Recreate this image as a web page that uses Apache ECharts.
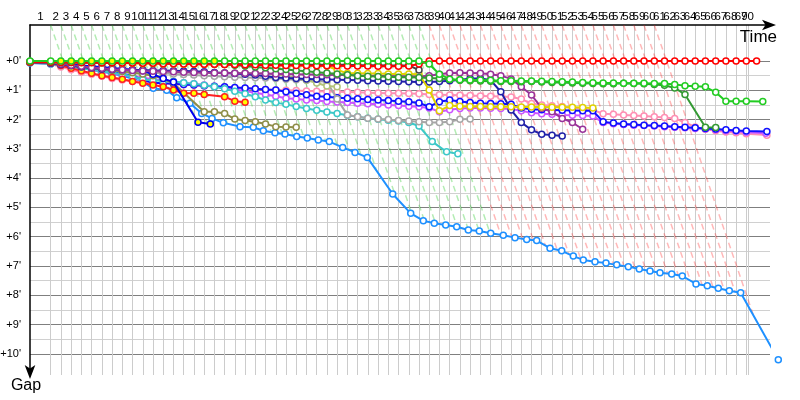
<!DOCTYPE html>
<html><head><meta charset="utf-8">
<script src="https://cdn.jsdelivr.net/npm/echarts@6/dist/echarts.min.js"></script>
<style>html,body{margin:0;padding:0;background:#fff}#c{width:800px;height:400px}</style>
</head><body><div id="c"></div>
<script>
// leader crossing time (minutes) at the end of each lap, lap 0 = start
const lapT = [0,2.07,3.09,4.12,5.14,6.16,7.19,8.21,9.23,10.25,11.28,12.30,13.32,14.35,15.37,16.39,17.42,18.44,19.46,20.48,21.51,22.53,23.55,24.58,25.60,26.62,27.65,28.67,29.69,30.71,31.74,32.76,33.78,34.81,35.83,36.85,37.88,38.90,39.92,40.94,41.97,42.99,44.01,45.04,46.06,47.08,48.11,49.13,50.15,51.17,52.20,53.22,54.24,55.27,56.29,57.31,58.34,59.36,60.38,61.40,62.43,63.45,64.47,65.50,66.52,67.54,68.57,69.59,70.61,71.63,72.66];
const finishT = 71.87;
const leaderChangeLap = 38;
const gapTop = -1.23, gapBottom = 10.72;
const gapTicks = [0,1,2,3,4,5,6,7,8,9,10];

// gaps (minutes) per lap, starting at lap 0
const gGreen = [0,0,0,0,0,0,0,0,0,0,0,0,0,0,0,0,0,0,0,0,0,0,0,0,0,0,0,0,0,0,0,0,0,0,0,0,0,0,
  0.10,0.45,0.62,0.64,0.65,0.65,0.66,0.67,0.67,0.68,0.68,0.69,0.70,0.71,0.72,0.73,0.74,0.75,0.75,0.76,0.76,0.76,0.77,0.77,0.80,0.84,0.86,0.88,1.07,1.37,1.37,1.37];
const pGreen = [[70.6,1.38]];
const gRed = [0.03,0.03,0.04,0.04,0.05,0.05,0.06,0.06,0.07,0.07,0.08,0.08,0.09,0.09,0.10,0.10,0.11,0.11,0.12,0.12,
  0.13,0.13,0.14,0.14,0.15,0.15,0.15,0.16,0.16,0.16,0.17,0.17,0.17,0.18,0.18,0.18,0.17,0.10,
  0,0,0,0,0,0,0,0,0,0,0,0,0,0,0,0,0,0,0,0,0,0,0,0,0,0,0,0,0,0,0,0,0];
const gDarkGrey = [0.03,0.04,0.04,0.05,0.05,0.05,0.06,0.06,0.06,0.06,0.07,0.07,0.08,0.08,0.08,0.09,0.09,0.09,0.10,0.10,
  0.11,0.11,0.11,0.12,0.12,0.12,0.13,0.13,0.13,0.13,0.13,0.14,0.14,0.14,0.15,0.15,0.15,0.31];
const gYellow = [0.03,0.04,0.05,0.05,0.06,0.06,0.07,0.07,0.08,0.08,0.09,0.09,0.10,0.10,0.11,0.11,0.12,0.12,0.12,0.13,
  0.13,0.13,0.14,0.14,0.15,0.15,0.16,0.16,0.17,0.30,0.42,0.42,0.43,0.43,0.44,0.44,0.44,0.45,0.99,1.70,
  1.52,1.54,1.55,1.55,1.56,1.56,1.56,1.57,1.57,1.57,1.58,1.58,1.58,1.59,1.60];
const gPurple = [0.03,0.06,0.10,0.14,0.18,0.22,0.25,0.28,0.30,0.32,0.34,0.35,0.36,0.37,0.38,0.39,0.40,0.41,0.41,0.42,
  0.42,0.43,0.43,0.44,0.44,0.45,0.46,0.46,0.47,0.48,0.48,0.49,0.50,0.50,0.51,0.52,0.52,0.53,0.50,0.45,
  0.41,0.40,0.41,0.42,0.45,0.50,0.61,0.88,1.16,1.61,1.73,1.96,2.10,2.33];
const gNavy = [0.03,0.08,0.12,0.16,0.20,0.24,0.27,0.29,0.30,0.31,0.31,0.32,0.32,0.33,0.34,0.35,0.37,0.39,0.41,0.43,
  0.45,0.48,0.52,0.56,0.58,0.60,0.61,0.62,0.63,0.64,0.65,0.66,0.67,0.68,0.69,0.70,0.71,0.72,0.72,0.70,
  0.67,0.65,0.60,0.60,0.65,1.05,1.67,2.10,2.35,2.50,2.53,2.56];
const gBlueA = [0.03,0.06,0.09,0.12,0.15,0.18,0.21,0.24,0.27,0.30,0.33,0.45,0.60,0.72];
const pBlueA = [[15.4,2.09],[16.6,2.15]]; // read at their own positions
const gBlueB = [0.04,0.08,0.13,0.18,0.23,0.28,0.33,0.38,0.43,0.50,0.65,0.74,0.76,0.78,0.80,0.82,0.84,0.86,0.88,0.90,
  0.92,0.95,0.97,0.99,1.05,1.10,1.15,1.20,1.22,1.25,1.27,1.29,1.31,1.33,1.35,1.37,1.39,1.43,1.56,1.39,
  1.33,1.38,1.42,1.44,1.45,1.46,1.48,1.60,1.65,1.66,1.67,1.68,1.69,1.70,1.70,2.07,2.12,2.15,2.17,2.19,
  2.20,2.22,2.24,2.26,2.28,2.30,2.32,2.35,2.37,2.39];
const pBlueB = [[71.0,2.41]];
const gPink = [0.04,0.10,0.20,0.30,0.38,0.45,0.52,0.60,0.65,0.68,0.72,0.75,0.77,0.79,0.81,0.83,0.85,0.87,0.89,0.91,
  0.93,0.95,0.97,0.99,1.00,1.01,1.02,1.03,1.04,1.05,1.06,1.07,1.08,1.09,1.10,1.10,1.11,1.12,1.14,1.15,
  1.16,1.17,1.18,1.19,1.20,1.21,1.23,1.30,1.45,1.50,1.53,1.55,1.60,1.64,1.67,1.80,1.82,1.84,1.86,1.88,
  1.90,1.93,1.96,2.10,2.25,2.33,2.38,2.42,2.45,2.48];
const pPink = [[71.0,2.53]];
const gViolet = [0.04,0.08,0.13,0.18,0.24,0.30,0.36,0.42,0.47,0.52,0.57,0.62,0.66,0.70,0.74,0.78,0.82,0.87,0.92,0.97,
  1.02,1.08,1.14,1.20,1.27,1.30,1.33,1.35,1.38,1.40,1.42,1.44,1.46,1.48,1.50,1.52,1.54,1.56,1.60,1.73,
  1.66,1.62,1.60,1.60,1.61,1.62,1.64,1.70,1.77,1.80,1.82,1.84,1.85,1.86,1.88,2.10,2.14,2.17,2.19,2.20,
  2.22,2.24,2.26,2.28,2.30,2.32,2.35,2.38,2.40,2.43];
const pViolet = [[70.9,2.47]];
const gCyan = [0.04,0.10,0.15,0.20,0.25,0.30,0.35,0.40,0.45,0.52,0.63,0.66,0.68,0.70,0.74,0.78,0.83,0.88,0.95,1.03,
  1.12,1.22,1.33,1.42,1.48,1.55,1.62,1.68,1.74,1.79,1.85,1.90,1.95,1.99,2.02,2.05,2.10,2.22];
const pCyan = [[38.3,2.75],[39.7,3.10],[40.8,3.17]];
const gGrey = [0.04,0.07,0.10,0.14,0.18,0.22,0.26,0.30,0.33,0.36,0.38,0.40,0.42,0.44,0.46,0.48,0.50,0.52,0.54,0.55,
  0.56,0.57,0.58,0.60,0.62,0.64,0.66,0.68,0.71,1.30,1.84,1.90,1.95,1.98,2.00,2.03,2.05,2.07,2.10,2.10,
  2.07,1.99,1.98];
const gLightOlive = [0.04,0.07,0.10,0.13,0.16,0.19,0.22,0.25,0.28,0.30,0.32,0.34,0.35,0.36,0.37,0.38,0.39,0.40,0.40,0.41,
  0.41,0.42,0.42,0.45,0.50,0.58,0.65,0.75,0.85,0.88];
const gOlive = [0.04,0.08,0.12,0.16,0.20,0.24,0.28,0.32,0.36,0.40,0.44,0.50,0.60,0.76,null,null,1.73,1.73,1.79,1.98,
  2.03,2.07,2.15,2.24,2.25,2.26];
const gRedB = [0.04,0.08,0.15,0.25,0.33,0.42,0.50,0.56,0.62,0.70,0.76,0.82,0.88,0.99,1.10,1.10,1.14,null,1.22,1.37,1.41];
const gDarkGreen = [0.02,0.03,0.03,0.03,0.04,0.04,0.04,0.05,0.05,0.05,0.06,0.06,0.07,0.07,0.08,0.08,0.09,0.10,0.12,0.14,
  0.17,0.20,0.23,0.26,0.29,0.32,0.35,0.38,0.41,0.44,0.47,0.50,0.52,0.53,0.54,0.55,0.55,0.56,0.58,0.60,
  0.63,0.66,0.67,0.68,0.69,0.70,0.70,0.71,0.70,0.72,0.73,0.73,0.75,0.76,0.77,0.78,0.78,0.76,0.77,0.78,
  0.80,0.83,0.92,1.14,null,2.26,2.27];
// lapped car: read crossing times and gaps
const skyT = [0,2.07,3.09,4.12,5.14,6.16,7.19,8.21,9.23,10.25,11.28,12.33,13.67,14.67,16.0,17.17,18.2,19.33,21.0,22.33,
  23.33,24.5,25.5,26.67,27.73,28.83,29.93,31.27,32.5,33.73,36.27,38.07,39.33,40.43,41.57,42.67,43.83,44.93,46.07,47.33,
  48.5,49.67,50.67,52.0,53.17,54.33,55.33,56.5,57.6,58.67,59.83,60.93,62.0,63.0,64.17,65.23,66.6,67.73,68.83,69.93,71.07,74.83];
const skyG = [0.07,0.10,0.14,0.19,0.24,0.30,0.36,0.43,0.50,0.60,0.72,0.93,1.00,1.25,1.44,1.79,1.96,2.11,2.24,2.26,
  2.38,2.45,2.49,2.58,2.63,2.70,2.75,2.95,3.12,3.29,4.54,5.20,5.45,5.54,5.60,5.66,5.77,5.80,5.88,5.95,
  6.03,6.09,6.13,6.39,6.48,6.66,6.79,6.85,6.90,6.96,7.02,7.10,7.17,7.23,7.27,7.34,7.61,7.67,7.76,7.84,7.91,10.20];

function lapToT(l) {
  const last = lapT.length - 1;
  if (l >= last) return lapT[last] + (lapT[last] - lapT[last - 1]) * (l - last);
  const i = Math.floor(l), f = l - i;
  return lapT[i] + (lapT[i + 1] - lapT[i]) * f;
}
function fromLaps(gaps, yellowTo, pairs, yellowPairs) {
  const out = [];
  gaps.forEach((g, lap) => {
    if (g === null) return;
    const item = { value: [lapT[lap], g] };
    if (yellowTo && lap >= yellowTo[0] && lap <= yellowTo[1]) item.itemStyle = { color: '#ffff00' };
    out.push(item);
  });
  (pairs || []).forEach(p => {
    const item = { value: [lapToT(p[0]), p[1]] };
    if (yellowPairs) item.itemStyle = { color: '#ffff00' };
    out.push(item);
  });
  return out;
}
const skyPts = skyT.map((t, i) => ({ value: [t, skyG[i]] }));

const cars = [
  { c: '#1e90ff', d: skyPts },
  { c: '#ff8fb4', d: fromLaps(gPink, [3, 10], pPink) },
  { c: '#cc55ff', d: fromLaps(gViolet, null, pViolet) },
  { c: '#1010ff', d: fromLaps(gBlueB, null, pBlueB) },
  { c: '#3cc8c8', d: fromLaps(gCyan, null, pCyan) },
  { c: '#a6a6a6', d: fromLaps(gGrey) },
  { c: '#b3c27a', d: fromLaps(gLightOlive) },
  { c: '#8e8e48', d: fromLaps(gOlive) },
  { c: '#ff2020', d: fromLaps(gRedB, [0, 20]) },
  { c: '#0000ee', d: fromLaps(gBlueA, null, pBlueA, true) },
  { c: '#2020a8', d: fromLaps(gNavy) },
  { c: '#993399', d: fromLaps(gPurple) },
  { c: '#e0d000', d: fromLaps(gYellow) },
  { c: '#339933', d: fromLaps(gDarkGreen) },
  { c: '#444444', d: fromLaps(gDarkGrey) },
  { c: '#ff0000', d: fromLaps(gRed) },
  { c: '#22cc22', d: fromLaps(gGreen, [2, 17], pGreen) }
];

// lower envelope of all cars
function envelope(t) {
  let m = -Infinity;
  for (const car of cars) {
    const p = car.d;
    if (t < p[0].value[0] || t > p[p.length - 1].value[0]) continue;
    for (let i = 1; i < p.length; i++) {
      const a = p[i - 1].value, b = p[i].value;
      if (t <= b[0]) {
        const g = a[1] + (b[1] - a[1]) * (t - a[0]) / (b[0] - a[0] || 1);
        if (g > m) m = g;
        break;
      }
    }
  }
  return m;
}

const gridT = lapT.slice(1, 70).concat([finishT]);
const labelT = gridT.map((t, i) => ((i === 0 ? 0 : gridT[i - 1]) + t) / 2);
const labelSlots = labelT.concat([73.9]); // trailing empty slot keeps the last lap number visible

const series = [];
// lap lines: one lap of time per gap unit, from the top of the axis down to the last car
gridT.forEach((t0, i) => {
  const lap = i + 1;
  let end = null;
  for (let t = t0; t <= 75; t += 0.01) {
    const e = envelope(t);
    if (e === -Infinity) continue;
    if (t - t0 + gapTop >= e) { end = t; break; }
  }
  if (end === null) return;
  series.push({
    type: 'line', xAxisIndex: 0, yAxisIndex: 0, silent: true, symbol: 'none', animation: false, z: 1,
    lineStyle: { color: lap < leaderChangeLap ? 'rgba(40,200,40,0.35)' : 'rgba(255,40,40,0.33)', width: 1.5, type: [6, 4] },
    data: [[t0, gapTop], [end, end - t0 + gapTop]]
  });
});
cars.forEach((car, k) => {
  series.push({
    type: 'line', xAxisIndex: 0, yAxisIndex: 0, silent: true, animation: false, clip: false, z: 3 + k,
    symbol: 'circle', symbolSize: 6, showSymbol: true,
    lineStyle: { color: car.c, width: 2 },
    itemStyle: { color: '#ffffff', borderColor: car.c, borderWidth: 1.5 },
    data: car.d
  });
});
series.push({ type: 'line', xAxisIndex: 1, yAxisIndex: 1, data: [], silent: true });

const chart = echarts.init(document.getElementById('c'), null, { renderer: 'canvas' });
chart.setOption({
  animation: false,
  backgroundColor: '#ffffff',
  grid: [
    { left: 30, right: 30, top: 25, bottom: 25, containLabel: false, outerBoundsMode: 'none' },
    { left: 30, right: 30, top: 61, height: 292.9, containLabel: false, outerBoundsMode: 'none' }
  ],
  xAxis: [
    {
      gridIndex: 0, type: 'value', position: 'top', min: 0, max: 74,
      name: 'Time', nameLocation: 'end', nameGap: 7,
      nameTextStyle: { fontSize: 17, color: '#000', fontFamily: 'Liberation Sans', align: 'right', verticalAlign: 'top', padding: [4, 0, 0, 0] },
      axisLine: { show: true, onZero: false, lineStyle: { color: '#000', width: 1.5 }, symbol: ['none', 'arrow'], symbolSize: [8, 14], symbolOffset: [0, 6] },
      axisTick: { show: false, customValues: gridT },
      axisLabel: {
        customValues: labelSlots, color: '#000', fontSize: 11.5, fontFamily: 'Liberation Sans', margin: 2,
        hideOverlap: false,
        formatter: v => { const i = labelT.findIndex(x => Math.abs(x - v) < 1e-6); return i >= 0 ? String(i + 1) : ''; }
      },
      splitLine: { show: true, lineStyle: { color: '#cccccc', width: 1 } }
    },
    { gridIndex: 1, type: 'value', min: 0, max: 74, show: false }
  ],
  yAxis: [
    {
      gridIndex: 0, type: 'value', inverse: true, min: gapTop, max: gapBottom,
      name: 'Gap', nameLocation: 'end', nameGap: 3,
      nameTextStyle: { fontSize: 16, color: '#000', fontFamily: 'Liberation Sans', padding: [0, 8, 0, 0] },
      axisLine: { show: true, onZero: false, lineStyle: { color: '#000', width: 1.5 }, symbol: ['arrow', 'none'], symbolSize: [8, 14], symbolOffset: [-4, 0] },
      axisTick: { show: false }, axisLabel: { show: false }, splitLine: { show: false }
    },
    {
      gridIndex: 1, type: 'value', inverse: true, min: 0, max: 10, interval: 0.5,
      axisLine: { show: false }, axisTick: { show: false },
      axisLabel: { color: '#000', fontSize: 11, fontFamily: 'Liberation Sans', margin: 9,
        formatter: v => gapTicks.indexOf(v) >= 0 ? '+' + v + "'" : '' },
      splitLine: { show: true, lineStyle: { color: ['#7f7f7f', '#d0d0d0'], width: 1 } }
    }
  ],
  series: series
});
</script>
</body></html>
